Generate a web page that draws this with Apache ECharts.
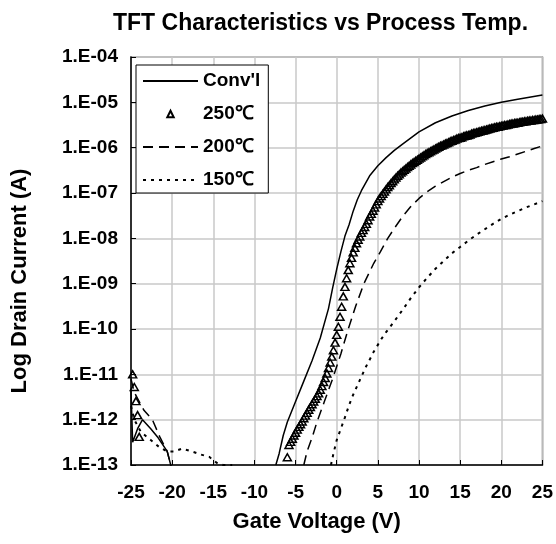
<!DOCTYPE html>
<html>
<head>
<meta charset="utf-8">
<script src="https://cdn.jsdelivr.net/npm/echarts@6/dist/echarts.min.js"></script>
<style>
  html, body { margin: 0; padding: 0; background: #fff; }
  #chart { width: 556px; height: 544px; }
</style>
</head>
<body>
<div id="chart"></div>
<script>
// 字体与颜色
const fontFamily = "'Liberation Sans', Arial, sans-serif";
const gridColor = '#c8c8c8';

// 图例名称
const seriesNames = ["Conv'l", '250℃', '200℃', '150℃'];

// 数据: [栅压 V, log10(漏电流 A)]
// Conv'l
const convLeft = [[-25, -11.35], [-24.8, -12.5], [-24.2, -12.2], [-23.6, -12.0], [-22.6, -12.2], [-21.7, -12.4], [-20.6, -12.7], [-20.1, -13.05]];
const convRight = [[-7.4, -13.0], [-7.0, -12.75], [-6.5, -12.35], [-6.0, -12.05], [-5.0, -11.6], [-4.0, -11.15], [-3.0, -10.7], [-2.0, -10.2],
  [-1.0, -9.55], [-0.5, -9.1], [0, -8.68], [0.5, -8.3], [1.0, -7.95], [1.5, -7.7], [2.0, -7.4], [2.5, -7.15], [3, -6.95], [4, -6.62],
  [5, -6.4], [6, -6.22], [7, -6.06], [8, -5.92], [10, -5.65], [12, -5.45], [14, -5.3], [16, -5.18], [18, -5.08], [20, -5.0], [22, -4.93], [25, -4.84]];

// 250℃ (三角标记)
const t250Left = [[-24.8, -11.0], [-24.6, -11.28], [-24.4, -11.59], [-24.2, -11.9], [-24.0, -12.38]];
const t250Right = [
  [-6.0, -12.83], [-5.8, -12.56], [-5.6, -12.49], [-5.4, -12.42], [-5.2, -12.35], [-5.0, -12.29], [-4.8, -12.22], [-4.6, -12.16], [-4.4, -12.10], [-4.2, -12.04],
  [-4.0, -11.97], [-3.8, -11.91], [-3.6, -11.85], [-3.4, -11.78], [-3.2, -11.72], [-3.0, -11.66], [-2.8, -11.60], [-2.6, -11.54], [-2.4, -11.48], [-2.2, -11.42],
  [-2.0, -11.34], [-1.8, -11.26], [-1.6, -11.17], [-1.4, -11.08], [-1.2, -10.98], [-1.0, -10.86], [-0.8, -10.74], [-0.6, -10.61], [-0.4, -10.47], [-0.2, -10.30],
  [0.0, -10.13], [0.2, -9.95], [0.4, -9.73], [0.6, -9.51], [0.8, -9.28], [1.0, -9.07], [1.2, -8.88], [1.4, -8.70], [1.6, -8.55], [1.8, -8.43],
  [2.0, -8.31], [2.2, -8.21], [2.4, -8.11], [2.6, -8.03], [2.8, -7.96], [3.0, -7.88], [3.2, -7.82], [3.4, -7.75], [3.6, -7.68], [3.8, -7.60],
  [4.0, -7.52], [4.2, -7.46], [4.4, -7.39], [4.6, -7.32], [4.8, -7.25], [5.0, -7.18], [5.2, -7.12], [5.4, -7.07], [5.6, -7.02], [5.8, -6.97],
  [6.0, -6.92], [6.2, -6.87], [6.4, -6.83], [6.6, -6.78], [6.8, -6.74], [7.0, -6.70], [7.2, -6.66], [7.4, -6.62], [7.6, -6.59], [7.8, -6.55],
  [8.0, -6.52], [8.2, -6.49], [8.4, -6.46], [8.6, -6.43], [8.8, -6.40], [9.0, -6.37], [9.2, -6.34], [9.4, -6.32], [9.6, -6.29], [9.8, -6.27],
  [10.0, -6.24], [10.2, -6.22], [10.4, -6.19], [10.6, -6.17], [10.8, -6.14], [11.0, -6.12], [11.2, -6.10], [11.4, -6.08], [11.6, -6.06], [11.8, -6.04],
  [12.0, -6.02], [12.2, -6.00], [12.4, -5.98], [12.6, -5.96], [12.8, -5.95], [13.0, -5.93], [13.2, -5.91], [13.4, -5.90], [13.6, -5.88], [13.8, -5.86],
  [14.0, -5.85], [14.2, -5.83], [14.4, -5.82], [14.6, -5.80], [14.8, -5.79], [15.0, -5.78], [15.2, -5.77], [15.4, -5.75], [15.6, -5.74], [15.8, -5.73],
  [16.0, -5.72], [16.2, -5.71], [16.4, -5.69], [16.6, -5.68], [16.8, -5.67], [17.0, -5.66], [17.2, -5.65], [17.4, -5.64], [17.6, -5.63], [17.8, -5.62],
  [18.0, -5.61], [18.2, -5.60], [18.4, -5.59], [18.6, -5.58], [18.8, -5.57], [19.0, -5.56], [19.2, -5.55], [19.4, -5.54], [19.6, -5.54], [19.8, -5.53],
  [20.0, -5.52], [20.2, -5.51], [20.4, -5.50], [20.6, -5.50], [20.8, -5.49], [21.0, -5.48], [21.2, -5.47], [21.4, -5.47], [21.6, -5.46], [21.8, -5.45],
  [22.0, -5.45], [22.2, -5.44], [22.4, -5.43], [22.6, -5.43], [22.8, -5.42], [23.0, -5.42], [23.2, -5.41], [23.4, -5.40], [23.6, -5.40], [23.8, -5.39],
  [24.0, -5.39], [24.2, -5.38], [24.4, -5.38], [24.6, -5.37], [24.8, -5.37], [25.0, -5.36]
];

// 200℃ (虚线)
const t200Left = [[-25, -11.1], [-24.6, -11.4], [-24.0, -11.6], [-23.4, -11.8], [-22.4, -12.0], [-21.5, -12.38], [-20.6, -12.7], [-20.1, -13.05]];
const t200Right = [[-4.0, -13.0], [-3.6, -12.7], [-3.0, -12.4], [-2.4, -12.05], [-1.5, -11.6], [-0.5, -11.1], [0.5, -10.55], [1.4, -10.0],
  [2.3, -9.5], [3.3, -9.0], [4.5, -8.55], [5.3, -8.3], [6.2, -8.0], [7, -7.78], [8, -7.52], [9, -7.3], [10, -7.12], [11, -6.97],
  [12, -6.85], [13, -6.75], [14, -6.65], [15, -6.57], [16, -6.5], [17, -6.44], [18, -6.37], [19, -6.31], [20, -6.25], [21, -6.2],
  [22, -6.14], [23, -6.08], [24, -6.02], [25, -5.96]];

// 150℃ (点线)
const t150Left = [[-25, -11.7], [-24.6, -12.0], [-23.8, -12.27], [-22.6, -12.45], [-21.6, -12.6], [-20.6, -12.7], [-19.8, -12.7], [-18.8, -12.64],
  [-17.6, -12.7], [-16.5, -12.77], [-15.5, -12.82], [-14.6, -12.95], [-13.8, -13.0], [-12.7, -13.0]];
const t150Right = [[-0.7, -13.0], [-0.4, -12.75], [0, -12.45], [0.5, -12.2], [1.0, -11.95], [1.5, -11.68], [2, -11.45], [2.5, -11.25],
  [3, -11.05], [3.5, -10.85], [4, -10.68], [4.5, -10.5], [5, -10.35], [5.5, -10.2], [6, -10.07], [7, -9.83], [8, -9.58], [9, -9.32],
  [10, -9.08], [11, -8.87], [12, -8.67], [13, -8.5], [14, -8.33], [15, -8.19], [16, -8.05], [17, -7.92], [18, -7.8], [19, -7.68],
  [20, -7.57], [21, -7.48], [22, -7.4], [23, -7.32], [24, -7.25], [25, -7.18]];

// 左右两段之间断开
function joinParts(left, right) {
  return left.concat([['-', '-']], right);
}

// 纵轴刻度: 1.E-04 形式
function expLabel(v) {
  const n = Math.abs(Math.round(v));
  return '1.E-' + (n < 10 ? '0' + n : n);
}

let chart = echarts.init(document.getElementById('chart'));

// 图例: 线型系列不显示中间的点
const legendData = seriesNames.map((name, i) => {
  return i === 1 ? { name: name } : { name: name, itemStyle: { opacity: 0 } };
});

const option = {
  animation: false,
  backgroundColor: '#fff',
  title: {
    text: 'TFT Characteristics vs Process Temp.',
    left: 108,
    top: 7,
    textStyle: { fontFamily: fontFamily, fontSize: 23, fontWeight: 'bold', color: '#000' }
  },
  legend: {
    orient: 'vertical',
    left: 136,
    top: 65,
    padding: [6, 8, 3, 6],
    itemWidth: 55,
    itemHeight: 8,
    itemGap: 13,
    backgroundColor: '#fff',
    borderColor: '#000',
    borderWidth: 1,
    textStyle: { fontFamily: fontFamily, fontSize: 19, fontWeight: 'bold', color: '#000', lineHeight: 20 },
    data: legendData
  },
  grid: {
    left: 131,
    right: 11,
    top: 57,
    bottom: 79,
    show: true,
    borderColor: '#8c8c8c',
    borderWidth: 1.5,
    backgroundColor: 'transparent'
  },
  xAxis: {
    type: 'value',
    min: -25,
    max: 25,
    interval: 5,
    name: 'Gate Voltage (V)',
    nameLocation: 'middle',
    nameGap: 46,
    nameTextStyle: { fontFamily: fontFamily, fontSize: 22, fontWeight: 'bold', color: '#000', padding: [0, 40, 0, 0] },
    axisLine: { onZero: false, lineStyle: { color: '#000', width: 1.5 } },
    axisTick: { inside: true, length: 5, lineStyle: { color: '#000' } },
    axisLabel: { margin: 18, fontFamily: fontFamily, fontSize: 19, fontWeight: 'bold', color: '#000' },
    splitLine: { lineStyle: { color: gridColor, width: 1.5 } }
  },
  yAxis: {
    type: 'value',
    min: -13,
    max: -4,
    interval: 1,
    name: 'Log Drain Current (A)',
    nameLocation: 'middle',
    nameGap: 100,
    nameTextStyle: { fontFamily: fontFamily, fontSize: 22, fontWeight: 'bold', color: '#000', padding: [0, 40, 0, 0] },
    axisLine: { show: true, onZero: false, lineStyle: { color: '#000', width: 1.5 } },
    axisTick: { show: true, inside: true, length: 5, lineStyle: { color: '#000' } },
    axisLabel: { margin: 13, fontFamily: fontFamily, fontSize: 19, fontWeight: 'bold', color: '#000', formatter: expLabel },
    splitLine: { lineStyle: { color: gridColor, width: 1.5 } }
  },
  series: [
    {
      name: seriesNames[0],
      type: 'line',
      symbol: 'none',
      data: joinParts(convLeft, convRight),
      lineStyle: { color: '#000', width: 1.5 },
      itemStyle: { color: '#000' }
    },
    {
      name: seriesNames[1],
      type: 'line',
      symbol: 'triangle',
      symbolSize: [8, 7],
      showAllSymbol: true,
      data: joinParts(t250Left, t250Right),
      lineStyle: { opacity: 0 },
      itemStyle: { color: 'rgba(255,255,255,0)', borderColor: '#000', borderWidth: 1.5 }
    },
    {
      name: seriesNames[2],
      type: 'line',
      symbol: 'none',
      data: joinParts(t200Left, t200Right),
      lineStyle: { color: '#000', width: 1.5, type: [10, 6] },
      itemStyle: { color: '#000' }
    },
    {
      name: seriesNames[3],
      type: 'line',
      symbol: 'none',
      data: joinParts(t150Left, t150Right),
      lineStyle: { color: '#000', width: 2, type: [3, 5] },
      itemStyle: { color: '#000' }
    }
  ]
};

chart.setOption(option);
</script>
</body>
</html>
